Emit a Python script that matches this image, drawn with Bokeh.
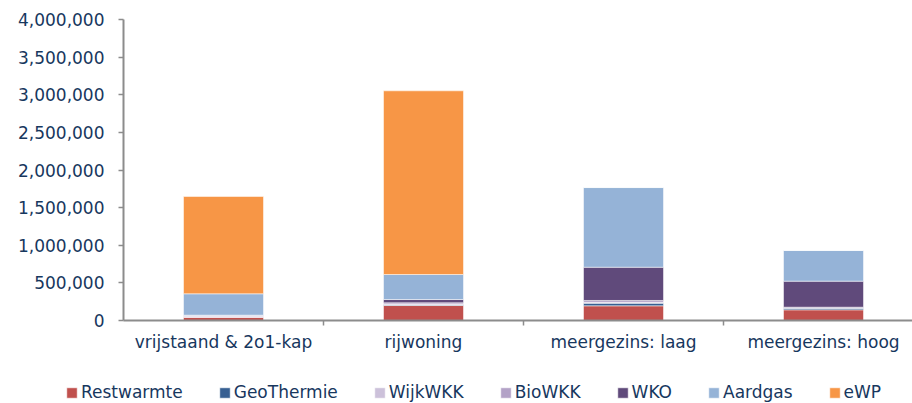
import numpy as np
from bokeh.plotting import figure
from bokeh.models import (Range1d, FixedTicker, NumeralTickFormatter, ColumnDataSource,
                          Legend, LegendItem)
from bokeh.embed import file_html
from bokeh.resources import INLINE

categories = ["vrijstaand & 2o1-kap", "rijwoning", "meergezins: laag", "meergezins: hoog"]
series_names = ["Restwarmte", "GeoThermie", "WijkWKK", "BioWKK", "WKO", "Aardgas", "eWP"]
restwarmte = [44000, 199000, 195000, 142000]
geothermie = [0, 10000, 35000, 21000]
wijkwkk = [12000, 8000, 12000, 5000]
biowkk = [15000, 18000, 24000, 9000]
wko = [0, 44000, 442000, 346000]
aardgas = [284000, 332000, 1059000, 407000]
ewp = [1293000, 2441000, 0, 0]
y_ticks = [0, 500000, 1000000, 1500000, 2000000, 2500000, 3000000, 3500000, 4000000]

colors = ["#C0504D", "#376092", "#CCC1DA", "#B3A2C7", "#604A7B", "#95B3D7", "#F79646"]
text_color = "#17375E"
axis_color = "#8C8C8C"
font = "DejaVu Sans"
fsize = "17px"

n = len(categories)
x_pos = list(np.arange(n) + 0.5)
source = ColumnDataSource(data=dict(
    x=x_pos, Restwarmte=restwarmte, GeoThermie=geothermie, WijkWKK=wijkwkk,
    BioWKK=biowkk, WKO=wko, Aardgas=aardgas, eWP=ewp))

W, H = 912, 403
# pixel geometry of the plotting area (axes placed inside a full-canvas frame)
x0_px, y0_px, ytop_px = 123.0, 320.0, 19.0
px_per_cat = 200.0
y_max = 4000000
px_per_val = (y0_px - ytop_px) / y_max
x_start, x_end = -x0_px / px_per_cat, (W - x0_px) / px_per_cat
y_start, y_end = -(H - y0_px) / px_per_val, y_max + ytop_px / px_per_val

p = figure(width=W, height=H, output_backend="svg", toolbar_location=None,
           x_range=Range1d(x_start, x_end), y_range=Range1d(y_start, y_end),
           min_border=0)
p.outline_line_color = None
p.xgrid.visible = False
p.ygrid.visible = False

renderers = p.vbar_stack(series_names, x="x", width=0.4, source=source, color=colors,
                         line_color="white", line_alpha=0.5, line_width=1)

# y axis
ya = p.yaxis[0]
ya.fixed_location = 0
ya.bounds = (0, y_max)
ya.ticker = FixedTicker(ticks=y_ticks)
ya.formatter = NumeralTickFormatter(format="0,0")
ya.axis_line_color = axis_color
ya.axis_line_width = 2
ya.major_tick_line_color = axis_color
ya.major_tick_line_width = 1.5
ya.major_tick_out = 5
ya.major_tick_in = 0
ya.minor_tick_line_color = None
ya.major_label_standoff = 14
ya.major_label_text_font = font
ya.major_label_text_font_size = fsize
ya.major_label_text_color = text_color

# x axis
xa = p.xaxis[0]
xa.fixed_location = 0
xa.bounds = (0, x_end)
xa.ticker = FixedTicker(ticks=x_pos, minor_ticks=list(range(1, n)))
xa.major_label_overrides = {float(x): c for x, c in zip(x_pos, categories)}
xa.axis_line_color = axis_color
xa.axis_line_width = 2
xa.major_tick_line_color = None
xa.major_tick_out = 5
xa.major_tick_in = 0
xa.minor_tick_line_color = axis_color
xa.minor_tick_line_width = 1.5
xa.minor_tick_out = 5
xa.minor_tick_in = 0
xa.major_label_standoff = 6
xa.major_label_text_font = font
xa.major_label_text_font_size = fsize
xa.major_label_text_color = text_color

items = [LegendItem(label=nm, renderers=[r]) for nm, r in zip(series_names, renderers)]
legend = Legend(items=items, orientation="horizontal", location=(65, 1),
                label_text_font=font, label_text_font_size=fsize,
                label_text_color=text_color, glyph_width=13, glyph_height=13,
                label_standoff=3, spacing=35, padding=0, margin=0,
                border_line_color=None, background_fill_alpha=0)
p.add_layout(legend, "center")

open("out.html", "w").write(file_html(p, INLINE))
